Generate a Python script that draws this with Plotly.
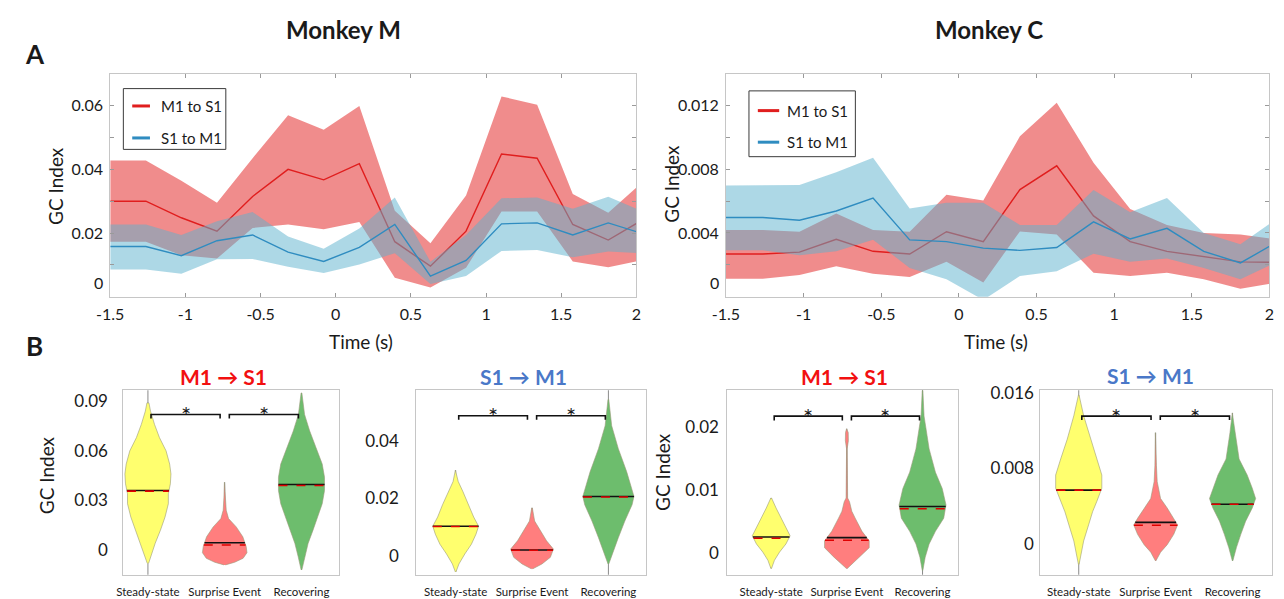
import numpy as np
import plotly.graph_objects as go

W, H = 1284, 599
FONT = "Lato, 'Open Sans', sans-serif"

# ---------------- Panel A: GC index over time ----------------
TIME = [-1.5, -1.263, -1.027, -0.79, -0.553, -0.317, -0.08, 0.157,
        0.393, 0.63, 0.867, 1.103, 1.34, 1.577, 1.813, 2.05]

# Monkey M
M_M1S1_MEAN = [0.0300, 0.0300, 0.0248, 0.0206, 0.0315, 0.0400, 0.0367, 0.0418,
               0.0173, 0.0096, 0.0206, 0.0448, 0.0435, 0.0227, 0.0178, 0.0244]
M_M1S1_HI = [0.0428, 0.0428, 0.0364, 0.0295, 0.0435, 0.0570, 0.0524, 0.0599,
             0.0270, 0.0168, 0.0318, 0.0629, 0.0603, 0.0323, 0.0264, 0.0364]
M_M1S1_LO = [0.0173, 0.0173, 0.0130, 0.0120, 0.0216, 0.0227, 0.0212, 0.0235,
             0.0060, 0.0029, 0.0091, 0.0268, 0.0268, 0.0111, 0.0093, 0.0116]
M_S1M1_MEAN = [0.0158, 0.0158, 0.0129, 0.0176, 0.0194, 0.0140, 0.0111, 0.0155,
               0.0227, 0.0065, 0.0114, 0.0229, 0.0232, 0.0194, 0.0232, 0.0197]
M_S1M1_HI = [0.0227, 0.0227, 0.0194, 0.0237, 0.0266, 0.0189, 0.0151, 0.0214,
             0.0312, 0.0110, 0.0194, 0.0309, 0.0312, 0.0276, 0.0314, 0.0266]
M_S1M1_LO = [0.0086, 0.0086, 0.0072, 0.0118, 0.0119, 0.0094, 0.0075, 0.0101,
             0.0137, 0.0040, 0.0065, 0.0144, 0.0147, 0.0124, 0.0142, 0.0136]

# Monkey C
C_M1S1_MEAN = [0.00268, 0.00268, 0.0028, 0.0036, 0.00285, 0.00268, 0.00408, 0.00346,
               0.00672, 0.00821, 0.00507, 0.00346, 0.00285, 0.00254, 0.00219, 0.00216]
C_M1S1_HI = [0.00419, 0.00419, 0.00408, 0.00522, 0.00419, 0.00408, 0.00639, 0.00604,
             0.01006, 0.01217, 0.0084, 0.0055, 0.0045, 0.0040, 0.0039, 0.0036]
C_M1S1_LO = [0.00113, 0.00113, 0.00136, 0.00192, 0.00144, 0.00124, 0.0022, 0.0009,
             0.0041, 0.0039, 0.0015, 0.0013, 0.0015, 0.0011, 0.0005, 0.0009]
C_S1M1_MEAN = [0.00497, 0.00497, 0.0048, 0.00538, 0.00619, 0.00357, 0.00346, 0.00305,
               0.00291, 0.00309, 0.0047, 0.00363, 0.00429, 0.00285, 0.00212, 0.00344]
C_S1M1_HI = [0.00697, 0.00697, 0.00701, 0.0078, 0.00872, 0.00553, 0.0059, 0.0059,
             0.0045, 0.0045, 0.0067, 0.0053, 0.0062, 0.0040, 0.0033, 0.0049]
C_S1M1_LO = [0.00291, 0.00291, 0.0026, 0.00285, 0.00357, 0.00181, 0.0011, -0.0002,
             0.0013, 0.0016, 0.0027, 0.0022, 0.0024, 0.0018, 0.0011, 0.0022]

X_TICKS = [-1.5, -1, -0.5, 0, 0.5, 1, 1.5, 2]
X_TICKTEXT = ["-1.5", "-1", "-0.5", "0", "0.5", "1", "1.5", "2"]
# the zero label is drawn separately, lifted clear of the x-axis labels
M_YTICKS = [0, 0.01, 0.02, 0.03, 0.04, 0.05, 0.06]
M_YTICKTEXT = ["", "", "0.02", "", "0.04", "", "0.06"]
C_YTICKS = [0, 0.002, 0.004, 0.006, 0.008, 0.010, 0.012]
C_YTICKTEXT = ["", "", "0.004", "", "0.008", "", "0.012"]

# ---------------- Panel B: violin profiles per epoch ----------------
CATEGORIES = ["Steady-state", "Surprise Event", "Recovering"]

# Monkey M, M1 -> S1
V1_Y = [[0.089, 0.084, 0.076, 0.068, 0.060, 0.052, 0.046, 0.040, 0.034, 0.028, 0.020, 0.012, 0.004, -0.004, -0.008],
        [0.041, 0.032, 0.024, 0.019, 0.014, 0.008, 0.002, -0.0016, -0.005, -0.0074, -0.009],
        [0.095, 0.082, 0.072, 0.062, 0.052, 0.044, 0.036, 0.028, 0.020, 0.012, 0.004, -0.004, -0.012]]
V1_W = [[0.013, 0.034, 0.086, 0.150, 0.236, 0.283, 0.300, 0.292, 0.266, 0.266, 0.223, 0.163, 0.094, 0.034, 0.009],
        [0.004, 0.010, 0.020, 0.050, 0.150, 0.236, 0.280, 0.290, 0.240, 0.130, 0.010],
        [0.005, 0.040, 0.107, 0.190, 0.270, 0.300, 0.300, 0.270, 0.210, 0.150, 0.086, 0.043, 0.005]]
V1_MEDIAN = [0.0360, 0.0044, 0.0396]
V1_MEAN = [0.0356, 0.0030, 0.0390]
V1_RANGE = [[-0.03, 0.11], [-0.009, 0.041], [-0.012, 0.095]]

# Monkey M, S1 -> M1
V2_Y = [[0.0299, 0.0259, 0.0224, 0.0178, 0.0135, 0.0103, 0.0075, 0.0040, 0.0006, -0.0029, -0.0057],
        [0.0167, 0.0121, 0.0086, 0.0052, 0.0023, -0.0006, -0.0029, -0.0046],
        [0.0546, 0.0454, 0.0374, 0.0293, 0.0236, 0.0207, 0.0178, 0.0121, 0.0063, 0.0017, -0.0029]]
V2_W = [[0.004, 0.034, 0.095, 0.172, 0.236, 0.300, 0.266, 0.206, 0.120, 0.043, 0.004],
        [0.004, 0.034, 0.110, 0.190, 0.280, 0.240, 0.130, 0.010],
        [0.005, 0.043, 0.130, 0.240, 0.300, 0.335, 0.310, 0.215, 0.130, 0.065, 0.005]]
V2_MEDIAN = [0.0103, 0.0020, 0.0207]
V2_MEAN = [0.0102, 0.0019, 0.0205]
V2_RANGE = [[-0.0057, 0.0299], [-0.0046, 0.0167], [-0.02, 0.07]]

# Monkey C, M1 -> S1
V3_Y = [[0.0088, 0.0072, 0.0051, 0.0036, 0.0028, 0.0015, 0.0002, -0.0011, -0.0024],
        [0.0198, 0.0192, 0.0179, 0.0166, 0.0088, 0.0082, 0.0067, 0.0056, 0.0035, 0.0020, 0.0009, -0.0006, -0.0017, -0.0024],
        [0.0259, 0.0218, 0.0166, 0.0129, 0.0103, 0.0077, 0.0056, 0.0035, 0.0015, -0.0006, -0.0027]]
V3_W = [[0.005, 0.065, 0.150, 0.215, 0.250, 0.195, 0.110, 0.043, 0.004],
        [0.004, 0.018, 0.020, 0.004, 0.010, 0.035, 0.065, 0.110, 0.200, 0.295, 0.295, 0.170, 0.065, 0.005],
        [0.004, 0.020, 0.087, 0.170, 0.260, 0.310, 0.280, 0.170, 0.087, 0.035, 0.004]]
V3_MEDIAN = [0.0026, 0.0025, 0.00745]
V3_MEAN = [0.0024, 0.0021, 0.0071]
V3_RANGE = [[-0.0024, 0.0088], [-0.0024, 0.0198], [-0.008, 0.03]]

# Monkey C, S1 -> M1
V4_Y = [[0.0158, 0.0136, 0.0111, 0.0090, 0.0073, 0.0059, 0.0045, 0.0034, 0.0020, 0.0003, -0.0015, -0.0022],
        [0.0118, 0.0083, 0.0066, 0.0048, 0.0038, 0.0027, 0.0020, 0.0010, -0.0001, -0.0009, -0.0018],
        [0.0139, 0.0118, 0.0090, 0.0073, 0.0059, 0.0048, 0.0038, 0.0024, 0.0010, -0.0004, -0.0018]]
V4_W = [[0.004, 0.064, 0.150, 0.235, 0.300, 0.300, 0.235, 0.180, 0.128, 0.064, 0.021, 0.004],
        [0.004, 0.010, 0.020, 0.064, 0.150, 0.235, 0.285, 0.235, 0.150, 0.064, 0.004],
        [0.004, 0.034, 0.085, 0.190, 0.256, 0.300, 0.256, 0.170, 0.107, 0.050, 0.004]]
V4_MEDIAN = [0.0057, 0.00227, 0.0042]
V4_MEAN = [0.0057, 0.00196, 0.0042]
V4_RANGE = [[-0.006, 0.02], [-0.0018, 0.0118], [-0.0018, 0.0139]]

# significance brackets: (top, tip) in GC units
V_BRACKET = [[0.0820, 0.0796],
             [0.0489, 0.0475],
             [0.0218, 0.0211],
             [0.01356, 0.01314]]

V_YTICKS = [[0, 0.03, 0.06, 0.09], [0, 0.02, 0.04], [0, 0.01, 0.02], [0, 0.008, 0.016]]
V_YTICKTEXT = [["0", "0.03", "0.06", "0.09"], ["0", "0.02", "0.04"],
               ["0", "0.01", "0.02"], ["0", "0.008", "0.016"]]
V_YRANGE = [[-0.015, 0.0966], [-0.0067, 0.0578], [-0.0034, 0.0259], [-0.0033, 0.0163]]
V_XRANGE = [[0.68, 3.49], [0.484, 3.495], [0.42, 3.47], [0.5, 3.51]]
V_YSTANDOFF = [11, 13, 4, 2]

RED_LINE = "#e01e1e"
BLUE_LINE = "#2f8cc0"
RED_FILL = "rgba(225,25,25,0.5)"
BLUE_FILL = "rgba(91,177,205,0.5)"
VIOLIN_COLORS = ["#ffff6e", "#ff7e7e", "#6dbd6d"]
FRAME = "#c6c6c6"
TXT = "#1a1a1a"


def dom_x(x0, x1):
    return [x0 / W, x1 / W]


def dom_y(y0, y1):
    return [1 - y1 / H, 1 - y0 / H]


def px(x):
    return x / W


def py(y):
    return 1 - y / H


fig = go.Figure()


def add_band(xa, ya, lo, hi, mean, fill, color):
    fig.add_trace(go.Scatter(x=TIME + TIME[::-1], y=hi + lo[::-1], fill="toself",
                             fillcolor=fill, mode="lines", line=dict(width=0),
                             hoverinfo="skip", showlegend=False, xaxis=xa, yaxis=ya))
    fig.add_trace(go.Scatter(x=TIME, y=mean, mode="lines", line=dict(color=color, width=1.4),
                             showlegend=False, xaxis=xa, yaxis=ya))


add_band("x", "y", M_M1S1_LO, M_M1S1_HI, M_M1S1_MEAN, RED_FILL, RED_LINE)
add_band("x", "y", M_S1M1_LO, M_S1M1_HI, M_S1M1_MEAN, BLUE_FILL, BLUE_LINE)
add_band("x2", "y2", C_M1S1_LO, C_M1S1_HI, C_M1S1_MEAN, RED_FILL, RED_LINE)
add_band("x2", "y2", C_S1M1_LO, C_S1M1_HI, C_S1M1_MEAN, BLUE_FILL, BLUE_LINE)

# violins
VIOLIN_SETS = [(V1_Y, V1_W, V1_MEDIAN, V1_MEAN, V1_RANGE),
               (V2_Y, V2_W, V2_MEDIAN, V2_MEAN, V2_RANGE),
               (V3_Y, V3_W, V3_MEDIAN, V3_MEAN, V3_RANGE),
               (V4_Y, V4_W, V4_MEDIAN, V4_MEAN, V4_RANGE)]

for p, (vy, vw, med, mean, rng) in enumerate(VIOLIN_SETS):
    xa, ya = f"x{p + 3}", f"y{p + 3}"
    for i in range(3):
        c = i + 1
        ys = np.array(vy[i], dtype=float)
        ws = np.array(vw[i], dtype=float)
        order = np.argsort(ys)
        ys, ws = ys[order], ws[order]
        # whisker through the full data range
        fig.add_trace(go.Scatter(x=[c, c], y=rng[i], mode="lines",
                                 line=dict(color="#8a8a8a", width=1),
                                 showlegend=False, hoverinfo="skip", xaxis=xa, yaxis=ya))
        fig.add_trace(go.Scatter(x=np.concatenate([c + ws, (c - ws)[::-1]]),
                                 y=np.concatenate([ys, ys[::-1]]),
                                 fill="toself", fillcolor=VIOLIN_COLORS[i], mode="lines",
                                 line=dict(color="#9a9a7a", width=0.6),
                                 showlegend=False, hoverinfo="skip", xaxis=xa, yaxis=ya))
        hw_med = float(np.interp(med[i], ys, ws))
        hw_mean = float(np.interp(mean[i], ys, ws))
        fig.add_trace(go.Scatter(x=[c - hw_med, c + hw_med], y=[med[i], med[i]], mode="lines",
                                 line=dict(color="#111111", width=1.6),
                                 showlegend=False, hoverinfo="skip", xaxis=xa, yaxis=ya))
        fig.add_trace(go.Scatter(x=[c - hw_mean, c + hw_mean], y=[mean[i], mean[i]], mode="lines",
                                 line=dict(color="#e00000", width=1.6, dash="dash"),
                                 showlegend=False, hoverinfo="skip", xaxis=xa, yaxis=ya))
    top, tip = V_BRACKET[p]
    for a, b in [(1.04, 1.94), (2.06, 2.96)]:
        fig.add_trace(go.Scatter(x=[a, a, b, b], y=[tip, top, top, tip], mode="lines",
                                 line=dict(color="#111111", width=1.6),
                                 showlegend=False, hoverinfo="skip", xaxis=xa, yaxis=ya))
        # significance star sitting just above the bracket
        fig.add_annotation(x=(a + b) / 2, y=top, xref=xa, yref=ya, text="*", showarrow=False,
                           font=dict(family=FONT, size=24, color=TXT), yanchor="middle",
                           yshift=0)

# ---------------- axes ----------------
A_TOP, A_BOT = 67.3, 292.7
axis_common = dict(showline=True, linecolor=FRAME, linewidth=1, mirror="allticks",
                   ticks="inside", ticklen=4, tickcolor="#9a9a9a", showgrid=False,
                   zeroline=False, ticklabelstandoff=3,
                   tickfont=dict(family=FONT, size=16, color=TXT))

layout = dict(
    xaxis=dict(domain=dom_x(97.7, 631.7), range=[-1.5, 2.0], anchor="y",
               tickvals=X_TICKS, ticktext=X_TICKTEXT, **axis_common),
    yaxis=dict(domain=dom_y(A_TOP, A_BOT), range=[0, 0.0698], anchor="x",
               tickvals=M_YTICKS, ticktext=M_YTICKTEXT, **axis_common),
    xaxis2=dict(domain=dom_x(722.7, 1274.3), range=[-1.5, 2.0], anchor="y2",
                tickvals=X_TICKS, ticktext=X_TICKTEXT, **axis_common),
    yaxis2=dict(domain=dom_y(A_TOP, A_BOT), range=[0, 0.01394], anchor="x2",
                tickvals=C_YTICKS, ticktext=C_YTICKTEXT, **axis_common),
)

V_XDOM = [(111, 330), (408.3, 641.7), (724, 958.3), (1041.7, 1276.7)]
for p in range(4):
    n = p + 3
    layout[f"xaxis{n}"] = dict(domain=dom_x(*V_XDOM[p]), range=V_XRANGE[p], anchor=f"y{n}",
                               showline=True, linecolor=FRAME, mirror=True, ticks="",
                               showgrid=False, zeroline=False, ticklabelstandoff=6,
                               tickvals=[1, 2, 3], ticktext=CATEGORIES,
                               tickfont=dict(family=FONT, size=11.5, color=TXT))
    layout[f"yaxis{n}"] = dict(domain=dom_y(387.5, 574.5), range=V_YRANGE[p], anchor=f"x{n}",
                               showline=True, linecolor=FRAME, mirror=True, ticks="",
                               showgrid=False, zeroline=False,
                               ticklabelstandoff=V_YSTANDOFF[p],
                               tickvals=V_YTICKS[p], ticktext=V_YTICKTEXT[p],
                               tickfont=dict(family=FONT, size=17, color=TXT))

fig.update_layout(width=W, height=H, margin=dict(l=0, r=0, t=0, b=0), autosize=False,
                  paper_bgcolor="white", plot_bgcolor="white", showlegend=False, **layout)


def text(x, y, s, size, bold=False, color=TXT, angle=0, xanchor="center"):
    fig.add_annotation(x=px(x), y=py(y), xref="paper", yref="paper", showarrow=False,
                       text=f"<b>{s}</b>" if bold else s, textangle=angle,
                       xanchor=xanchor, yanchor="middle",
                       font=dict(family=FONT, size=size, color=color))


text(334, 22, "Monkey M", 24, bold=True)
text(990, 22, "Monkey C", 24, bold=True)
text(21, 47, "A", 26, bold=True)
text(21, 343, "B", 26, bold=True)
text(42, 180, "GC Index", 19, angle=-90)
text(668, 178, "GC Index", 19, angle=-90)
text(352, 338, "Time (s)", 19)
text(997, 338, "Time (s)", 19)
text(33, 474, "GC Index", 19, angle=-90)
text(658, 470, "GC Index", 19, angle=-90)
text(213, 373, "M1 → S1", 21, bold=True, color="#f21010")
text(517, 373, "S1 → M1", 21, bold=True, color="#4a78c8")
text(843, 373, "M1 → S1", 21, bold=True, color="#f21010")
text(1154, 372, "S1 → M1", 21, bold=True, color="#4a78c8")

# zero labels of the time-course axes, lifted above the corner
text(92, 278, "0", 16, xanchor="right")
text(718, 278, "0", 16, xanchor="right")

# legends (boxed, one per monkey)
LEGEND_LABELS = ["M1 to S1", "S1 to M1"]
LEGEND_COLORS = [RED_LINE, BLUE_LINE]
for (bx0, by0, bx1, by1), (lx0, lx1), rows, tx in [
        ((111, 81.7, 215, 143.3), (120, 138), (99.3, 131.7), 146.7),
        ((746, 84, 854, 150.7), (755, 776.7), (104, 136), 782.7)]:
    fig.add_shape(type="rect", xref="paper", yref="paper", x0=px(bx0), x1=px(bx1),
                  y0=py(by1), y1=py(by0), line=dict(color="#3a3a3a", width=1),
                  fillcolor="white")
    for lab, col, ry in zip(LEGEND_LABELS, LEGEND_COLORS, rows):
        fig.add_shape(type="line", xref="paper", yref="paper", x0=px(lx0), x1=px(lx1),
                      y0=py(ry), y1=py(ry), line=dict(color=col, width=3))
        text(tx, ry, lab, 15, xanchor="left")

fig.write_html("out.html")
